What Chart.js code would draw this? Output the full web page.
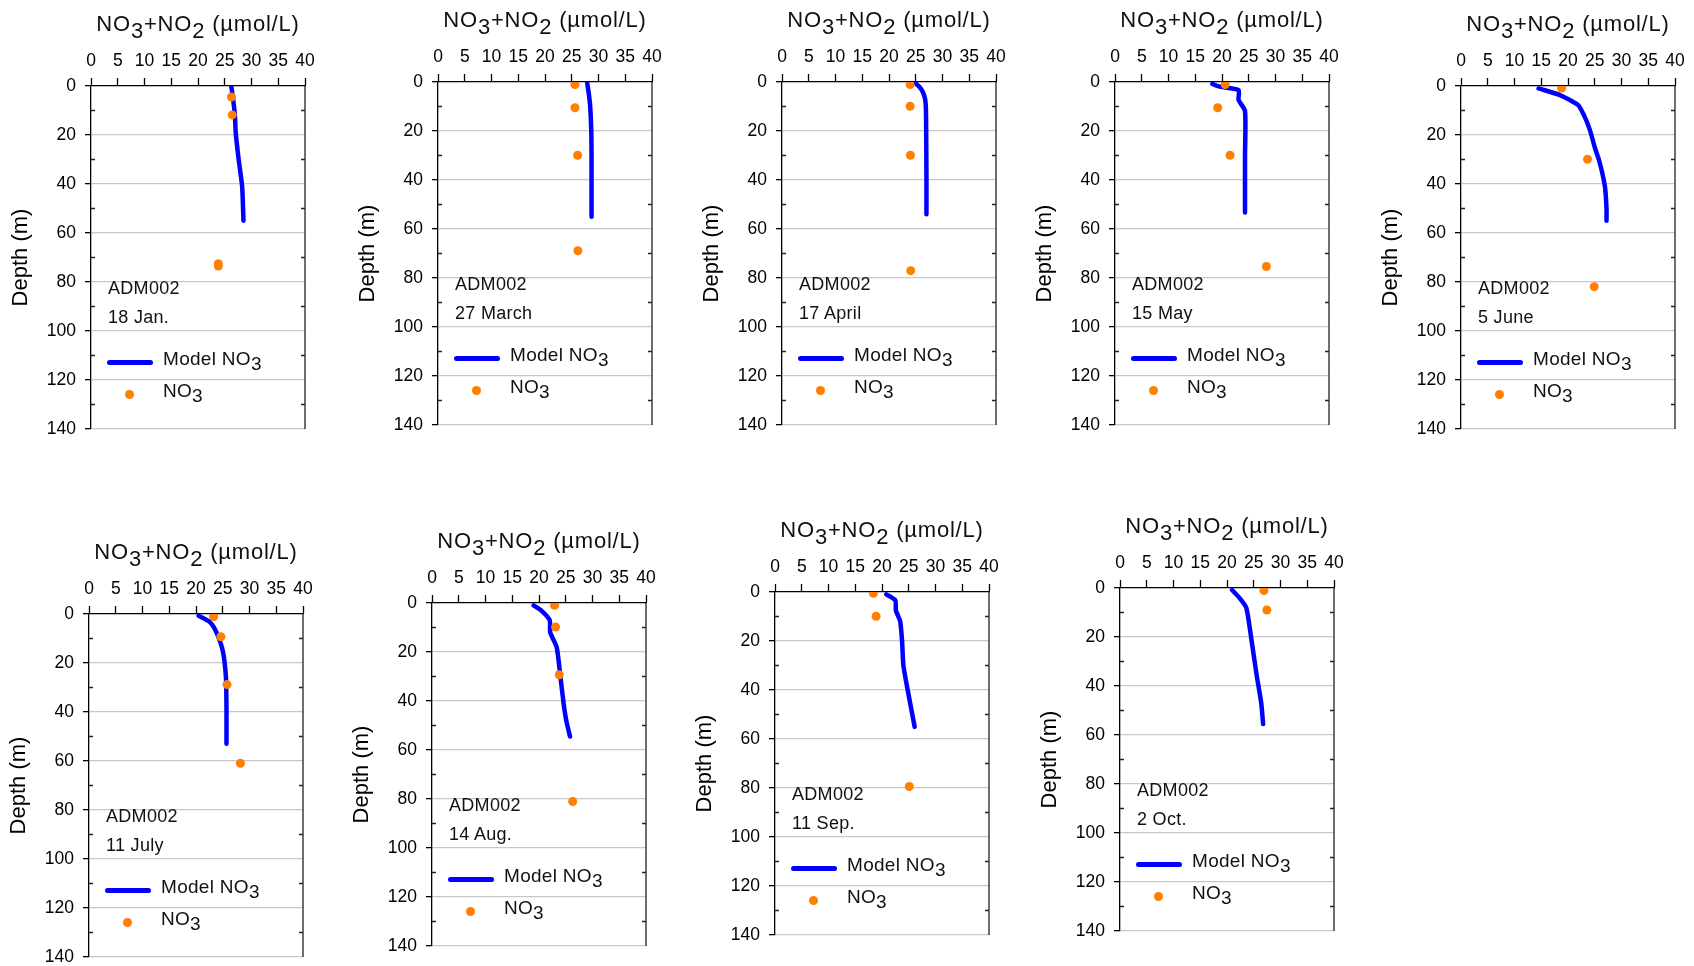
<!DOCTYPE html>
<html lang="en">
<head>
<meta charset="UTF-8">
<title>ADM002 NO3 profiles</title>
<script src="https://cdn.jsdelivr.net/npm/chart.js"></script>
<style>
  body { margin: 0; background: #fff; overflow: hidden; font-family: "Liberation Sans", Arial, sans-serif; color: #111; }
  #page { position: relative; width: 1694px; height: 966px; }
  .panel { position: absolute; }
  .panel canvas { position: absolute; left: 0; top: 0; }
  .txt { position: absolute; white-space: nowrap; line-height: 1; }
  .title { font-size: 22px; letter-spacing: 0.8px; text-align: center; }
  .note { font-size: 18px; letter-spacing: 0.3px; }
  .lg { font-size: 19px; letter-spacing: 0.3px; }
  .sub { position: relative; top: 0.3em; }
  .lgline { position: absolute; height: 5px; background: #0000ff; border-radius: 3px; }
  .lgdot { position: absolute; width: 9px; height: 9px; border-radius: 50%; background: #ff7f00; }
</style>
</head>
<body>
<div id="page"></div>

<script>
    // sampling dates (one panel each)
    const dates = ['18 Jan.', '27 March', '17 April', '15 May', '5 June', '11 July', '14 Aug.', '11 Sep.', '2 Oct.'];

    // model NO3 profile (depth in m, NO3+NO2 in umol/L)
    const modelDepth = [
        [0.5, 6, 12, 19, 30, 41, 55],
        [0.5, 5, 10, 20, 30, 40, 55],
        [0.5, 2, 4, 7, 11, 20, 40, 54],
        [0.8, 1.8, 3.3, 7.3, 11.8, 30, 53.3],
        [1, 3.7, 7.8, 12, 18, 25, 31, 41, 50, 55],
        [0.7, 3.3, 7.4, 15, 26, 40, 53],
        [1, 3, 7, 12, 18, 30, 41, 48, 54.5],
        [1, 3.4, 7.5, 12, 20, 30, 40, 55],
        [0.8, 4.2, 8, 18.5, 35, 47, 55.5]
    ];
    const modelNO3 = [
        [26.25, 26.6, 26.9, 27.05, 27.6, 28.25, 28.5],
        [27.9, 28.2, 28.45, 28.65, 28.7, 28.7, 28.7],
        [24.9, 25.7, 26.3, 26.75, 26.9, 26.95, 27.0, 27.0],
        [18.2, 19.4, 23.1, 23.1, 24.3, 24.3, 24.3],
        [14.5, 18.5, 21.9, 23.0, 24.1, 25.0, 25.9, 26.9, 27.2, 27.2],
        [20.5, 22.6, 23.8, 25.0, 25.6, 25.7, 25.7],
        [19.0, 20.4, 22.0, 22.1, 23.3, 24.0, 24.6, 25.1, 25.8],
        [20.8, 22.5, 22.6, 23.4, 23.75, 24.0, 24.8, 26.1],
        [20.95, 22.4, 23.6, 24.4, 25.5, 26.4, 26.75]
    ];

    // measured NO3
    const obsDepth = [
        [4.5, 11.8, 72.5, 73.5],
        [1, 10.5, 29.9, 68.9],
        [1, 9.9, 29.9, 77],
        [1, 10.5, 29.9, 75.3],
        [0.8, 29.9, 81.9],
        [1, 9.3, 28.8, 60.9],
        [0.95, 9.8, 29.3, 81],
        [0.5, 9.9, 79.4],
        [1, 9]
    ];
    const obsNO3 = [
        [26.25, 26.4, 23.8, 23.8],
        [25.6, 25.6, 26.1, 26.15],
        [23.95, 23.95, 24.0, 24.06],
        [20.6, 19.2, 21.5, 28.3],
        [18.8, 23.65, 24.9],
        [23.3, 24.65, 25.8, 28.3],
        [22.9, 23.1, 23.8, 26.3],
        [18.4, 18.9, 25.1],
        [26.9, 27.45]
    ];

    const no3Ticks = [0, 5, 10, 15, 20, 25, 30, 35, 40];
    const depthTicks = [0, 20, 40, 60, 80, 100, 120, 140];
    const depthMinor = [10, 30, 50, 70, 90, 110, 130];

    // where each plot area sits on the page
    const plotLeft = [91, 438, 782, 1115, 1461, 89, 432, 775, 1120];
    const plotTop = [86, 82, 82, 82, 86, 614, 603, 592, 588];
    const PLOT_W = 214, PLOT_H = 343;
    const AXIS_W = 91, AXIS_H = 86, PAD_R = 15, PAD_B = 14;

    const BLUE = '#0000ff';
    const ORANGE = '#ff7f00';

    // right frame line + small inside ticks
    const frameExtras = {
        id: 'frameExtras',
        afterDraw(chart) {
            const ctx = chart.ctx;
            const a = chart.chartArea;
            const y = chart.scales.y;
            ctx.save();
            ctx.strokeStyle = '#222';
            ctx.lineWidth = 1.3;
            ctx.beginPath();
            ctx.moveTo(a.right, a.top);
            ctx.lineTo(a.right, a.bottom);
            depthMinor.forEach(v => {
                const py = y.getPixelForValue(v);
                ctx.moveTo(a.left, py); ctx.lineTo(a.left + 4, py);
                ctx.moveTo(a.right - 4, py); ctx.lineTo(a.right, py);
            });
            ctx.stroke();
            ctx.restore();
        }
    };

    function addText(box, cls, html, left, top, width) {
        const d = document.createElement('div');
        d.className = 'txt ' + cls;
        d.innerHTML = html;
        d.style.left = left + 'px';
        d.style.top = top + 'px';
        if (width) d.style.width = width + 'px';
        box.appendChild(d);
    }

    function buildPanel(i) {
        const box = document.createElement('div');
        box.className = 'panel';
        const w = AXIS_W + PLOT_W + PAD_R, h = AXIS_H + PLOT_H + PAD_B;
        box.style.left = (plotLeft[i] - AXIS_W) + 'px';
        box.style.top = (plotTop[i] - AXIS_H) + 'px';
        box.style.width = w + 'px';
        box.style.height = h + 'px';
        const canvas = document.createElement('canvas');
        canvas.width = w;
        canvas.height = h;
        box.appendChild(canvas);
        document.getElementById('page').appendChild(box);

        const model = modelDepth[i].map((d, k) => ({ x: modelNO3[i][k], y: d }));
        const obs = obsDepth[i].map((d, k) => ({ x: obsNO3[i][k], y: d }));

        new Chart(canvas.getContext('2d'), {
            type: 'scatter',
            data: {
                datasets: [
                    { label: 'NO3', data: obs, backgroundColor: ORANGE, borderWidth: 0, pointRadius: 4.5 },
                    { label: 'Model NO3', data: model, showLine: true, borderColor: BLUE, borderWidth: 4.5,
                      borderCapStyle: 'round', borderJoinStyle: 'round', pointRadius: 0, tension: 0.2 }
                ]
            },
            options: {
                responsive: false,
                animation: false,
                layout: { padding: { left: 0, top: 0, right: PAD_R, bottom: PAD_B } },
                plugins: { legend: { display: false }, tooltip: { enabled: false } },
                scales: {
                    x: {
                        type: 'linear', position: 'top', min: 0, max: 40,
                        afterBuildTicks: s => { s.ticks = no3Ticks.map(v => ({ value: v })); },
                        afterFit: s => { s.height = AXIS_H; s.paddingLeft = 0; s.paddingRight = 0; },
                        ticks: { autoSkip: false, maxRotation: 0, padding: 6, color: '#000',
                                 font: { family: 'Liberation Sans', size: 17.5 } },
                        grid: { drawOnChartArea: false, tickLength: 8, tickColor: '#000', tickWidth: 1.3 },
                        border: { color: '#000', width: 1.3 }
                    },
                    y: {
                        type: 'linear', reverse: true, min: 0, max: 140,
                        afterBuildTicks: s => { s.ticks = depthTicks.map(v => ({ value: v })); },
                        afterFit: s => { s.width = AXIS_W; s.paddingTop = 0; s.paddingBottom = 0; },
                        ticks: { padding: 9, color: '#000', font: { family: 'Liberation Sans', size: 17.5 } },
                        grid: {
                            color: c => (c.tick && c.tick.value === 0) ? 'rgba(0,0,0,0)' : '#c8c8c8',
                            lineWidth: 1.3, tickLength: 6, tickColor: '#000', tickWidth: 1.3
                        },
                        border: { color: '#000', width: 1.3 },
                        title: { display: true, text: 'Depth (m)', color: '#000',
                                 font: { family: 'Liberation Sans', size: 22 }, padding: { top: 8, bottom: 0 } }
                    }
                }
            },
            plugins: [frameExtras]
        });

        // title, station/date note and legend
        addText(box, 'title', 'NO<span class="sub">3</span>+NO<span class="sub">2</span> (\u00b5mol/L)',
                AXIS_W - 20, AXIS_H - 73, PLOT_W + 40);
        addText(box, 'note', 'ADM002', AXIS_W + 17, AXIS_H + 202 - 9);
        addText(box, 'note', dates[i], AXIS_W + 17, AXIS_H + 231 - 9);

        const ln = document.createElement('div');
        ln.className = 'lgline';
        ln.style.left = (AXIS_W + 16) + 'px';
        ln.style.width = '46px';
        ln.style.top = (AXIS_H + 276 - 2.5) + 'px';
        box.appendChild(ln);
        addText(box, 'lg', 'Model NO<span class="sub">3</span>', AXIS_W + 72, AXIS_H + 272 - 9.5);

        const dot = document.createElement('div');
        dot.className = 'lgdot';
        dot.style.left = (AXIS_W + 38 - 4.5) + 'px';
        dot.style.top = (AXIS_H + 308 - 4.5) + 'px';
        box.appendChild(dot);
        addText(box, 'lg', 'NO<span class="sub">3</span>', AXIS_W + 72, AXIS_H + 304 - 9.5);
    }

    dates.forEach((d, i) => buildPanel(i));
</script>
</body>
</html>
